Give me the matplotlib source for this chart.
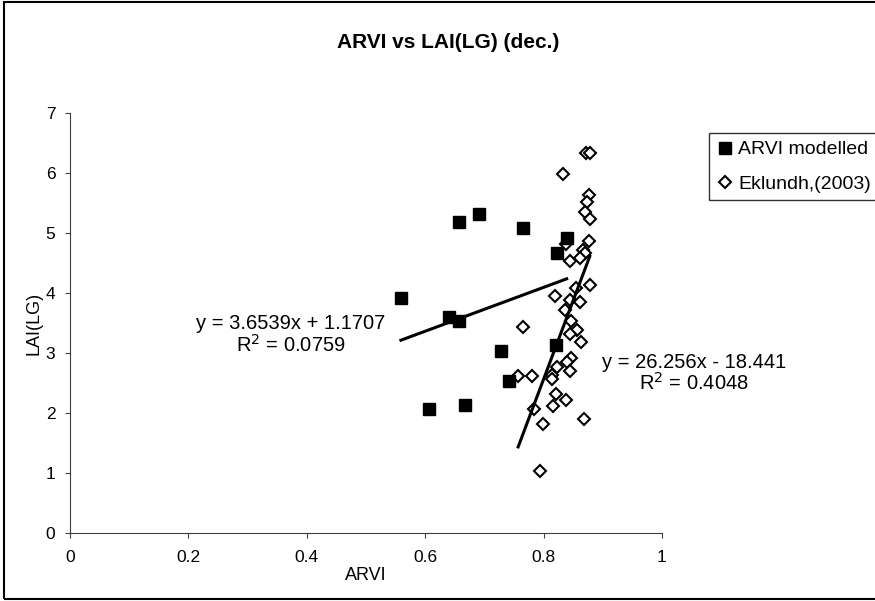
import numpy as np
import matplotlib
matplotlib.use("Agg")
import matplotlib.pyplot as plt
import matplotlib.patches as mpatches

plt.rcParams['font.family'] = ['Liberation Sans', 'DejaVu Sans']

# ARVI modelled (filled squares)
modelled_x = [0.559, 0.606, 0.640, 0.657, 0.657, 0.667, 0.691, 0.728, 0.742, 0.765, 0.822, 0.821, 0.839]
modelled_y = [3.92, 2.06, 3.60, 3.54, 5.19, 2.13, 5.32, 3.04, 2.53, 5.09, 4.67, 3.14, 4.91]

# Eklundh (2003) (open diamonds)
eklundh_x = [0.872, 0.878, 0.833, 0.876, 0.873, 0.870, 0.878, 0.876, 0.838, 0.866,
             0.870, 0.861, 0.845, 0.878, 0.819, 0.855, 0.845, 0.861, 0.836, 0.847,
             0.856, 0.845, 0.864, 0.766, 0.847, 0.839, 0.822, 0.845, 0.815, 0.814,
             0.757, 0.780, 0.821, 0.838, 0.816, 0.783, 0.799, 0.868, 0.794]
eklundh_y = [6.34, 6.34, 5.98, 5.63, 5.52, 5.35, 5.24, 4.87, 4.81, 4.72,
             4.67, 4.58, 4.54, 4.13, 3.95, 4.09, 3.88, 3.85, 3.71, 3.53,
             3.39, 3.32, 3.19, 3.43, 2.92, 2.85, 2.77, 2.70, 2.63, 2.57,
             2.62, 2.62, 2.32, 2.21, 2.12, 2.07, 1.82, 1.90, 1.04]

# trendline coefficients as printed on the chart
fit_modelled = (3.6539, 1.1707)
fit_eklundh = (26.256, -18.441)

x_ticks = [0, 0.2, 0.4, 0.6, 0.8, 1]
x_ticklabels = ['0', '0.2', '0.4', '0.6', '0.8', '1']
y_ticks = [0, 1, 2, 3, 4, 5, 6, 7]

fig = plt.figure(figsize=(8.75, 6.01), dpi=100)
ax = fig.add_axes([70 / 875, 1 - 533 / 601, 592 / 875, 420 / 601])

ax.plot(modelled_x, modelled_y, 's', color='black', markersize=8,
        linestyle='none', label='ARVI modelled', zorder=3)
ax.plot(eklundh_x, eklundh_y, 'D', markerfacecolor='white', markeredgecolor='black',
        markeredgewidth=1.5, markersize=6, linestyle='none',
        label='Eklundh,(2003)', zorder=2)

# trendlines over the data range
for xs, (m, b) in [(modelled_x, fit_modelled), (eklundh_x, fit_eklundh)]:
    xx = np.array([min(xs), max(xs)])
    ax.plot(xx, m * xx + b, color='black', linewidth=2.2, zorder=4)

ax.text(0.372, 3.30, 'y = 3.6539x + 1.1707\nR$^2$ = 0.0759', ha='center', va='center',
        fontsize=14.5, linespacing=1.05)
ax.text(1.054, 2.66, 'y = 26.256x - 18.441\nR$^2$ = 0.4048', ha='center', va='center',
        fontsize=14.5, linespacing=1.05, clip_on=False)

ax.set_xlim(0, 1)
ax.set_ylim(0, 7)
ax.set_xticks(x_ticks)
ax.set_xticklabels(x_ticklabels)
ax.set_yticks(y_ticks)
ax.tick_params(direction='out', length=3.6, width=0.8, labelsize=12.5, color='#404040')
ax.tick_params(axis='x', pad=9)
ax.tick_params(axis='y', pad=7)
for side in ['top', 'right']:
    ax.spines[side].set_visible(False)
for side in ['left', 'bottom']:
    ax.spines[side].set_color('#404040')
    ax.spines[side].set_linewidth(0.8)

ax.set_xlabel('ARVI', fontsize=13, labelpad=1)
ax.set_ylabel('LAI(LG)', fontsize=13, labelpad=2)

fig.text(448 / 875, 1 - 42 / 601, 'ARVI vs LAI(LG) (dec.)', ha='center', va='center',
         fontsize=15, fontweight='bold')

leg = fig.legend(loc='upper left', bbox_to_anchor=(709 / 875, 1 - 133 / 601),
                 frameon=True, fancybox=False, fontsize=14, handlelength=0.8,
                 handletextpad=0.3, borderpad=0.4, labelspacing=0.85,
                 borderaxespad=0)
leg.get_frame().set_edgecolor('black')
leg.get_frame().set_linewidth(1.0)

# chart area border
fig.patches.append(mpatches.Rectangle((0.004, 0.004), 1.2, 0.992, transform=fig.transFigure,
                                      fill=False, edgecolor='black', linewidth=1.5))

fig.savefig('out.png', dpi=100)
